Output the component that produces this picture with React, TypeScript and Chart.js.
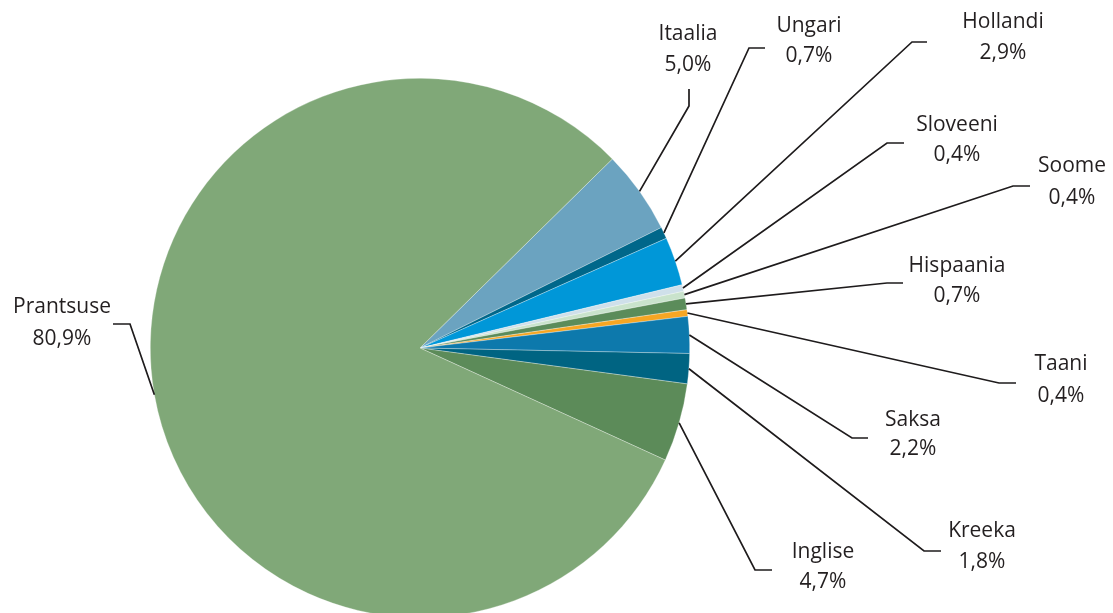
import React, { useEffect, useRef } from "react";
import { Chart, registerables } from "chart.js";

Chart.register(...registerables);

const categories = ["Itaalia", "Ungari", "Hollandi", "Sloveeni", "Soome", "Hispaania", "Taani", "Saksa", "Kreeka", "Inglise", "Prantsuse"];
const shares = [5.0, 0.7, 2.9, 0.4, 0.4, 0.7, 0.4, 2.2, 1.8, 4.7, 80.9];
const valueLabels = ["5,0%", "0,7%", "2,9%", "0,4%", "0,4%", "0,7%", "0,4%", "2,2%", "1,8%", "4,7%", "80,9%"];
const sliceColors = ["#6ba3c0", "#00678a", "#0097d8", "#cfe0ea", "#c9e3cc", "#5b8c5a", "#f6a623", "#0d79ac", "#006482", "#5c8b59", "#80a878"];

// label layout: [textX, nameY, valueY, elbowX, elbowY, endX, endY]
const labelLayout = [
  [688, 34, 65, 689, 106, 689, 89],
  [809, 26, 56, 749, 48, 765, 48],
  [1003, 22, 53, 912, 42, 927, 42],
  [957, 125, 155, 887, 143, 904, 143],
  [1072, 166, 198, 1013, 186, 1030, 186],
  [957, 266, 296, 887, 283, 903, 283],
  [1061, 364, 396, 999, 383, 1016, 383],
  [913, 420, 449, 852, 438, 868, 438],
  [982, 531, 562, 924, 551, 941, 551],
  [823, 552, 582, 755, 570, 772, 570],
  [62, 307, 339, 130, 324, 113, 324],
];

const leaderPlugin = {
  id: "leaders",
  afterDraw(chart: any) {
    const ctx = chart.ctx;
    const meta = chart.getDatasetMeta(0);
    ctx.save();
    ctx.strokeStyle = "#1e1b1c";
    ctx.lineWidth = 1.7;
    ctx.fillStyle = "#231f20";
    ctx.font = "21px 'Open Sans'";
    ctx.textAlign = "center";
    ctx.textBaseline = "middle";
    meta.data.forEach((arc: any, i: number) => {
      const p = arc.getProps(["x", "y", "startAngle", "endAngle", "outerRadius"], true);
      const mid = (p.startAngle + p.endAngle) / 2;
      const sx = p.x + Math.cos(mid) * p.outerRadius;
      const sy = p.y + Math.sin(mid) * p.outerRadius;
      const L = labelLayout[i];
      ctx.beginPath();
      ctx.moveTo(sx, sy);
      ctx.lineTo(L[3], L[4]);
      ctx.lineTo(L[5], L[6]);
      ctx.stroke();
      ctx.fillText(categories[i], L[0], L[1]);
      ctx.fillText(valueLabels[i], L[0], L[2]);
    });
    ctx.restore();
  },
};

export default function App() {
  const ref = useRef<HTMLCanvasElement>(null);
  useEffect(() => {
    if (!ref.current) return;
    const chart = new Chart(ref.current, {
      type: "pie",
      data: {
        labels: categories,
        datasets: [
          {
            data: shares,
            backgroundColor: sliceColors,
            borderColor: "rgba(255,255,255,0.5)",
            borderWidth: 0.6,
          },
        ],
      },
      options: {
        responsive: false,
        animation: false,
        rotation: 45.5,
        layout: { padding: { left: 150, right: 423, top: 78, bottom: 82 } },
        plugins: {
          legend: { display: false },
          tooltip: { enabled: false },
        },
      },
      plugins: [leaderPlugin],
    });
    return () => chart.destroy();
  }, []);
  return (
    <div style={{ position: "fixed", left: 0, top: 0, width: 1113, height: 613, overflow: "hidden", background: "#fff" }}>
      <canvas ref={ref} width={1113} height={700} style={{ width: 1113, height: 700, display: "block" }} />
    </div>
  );
}
